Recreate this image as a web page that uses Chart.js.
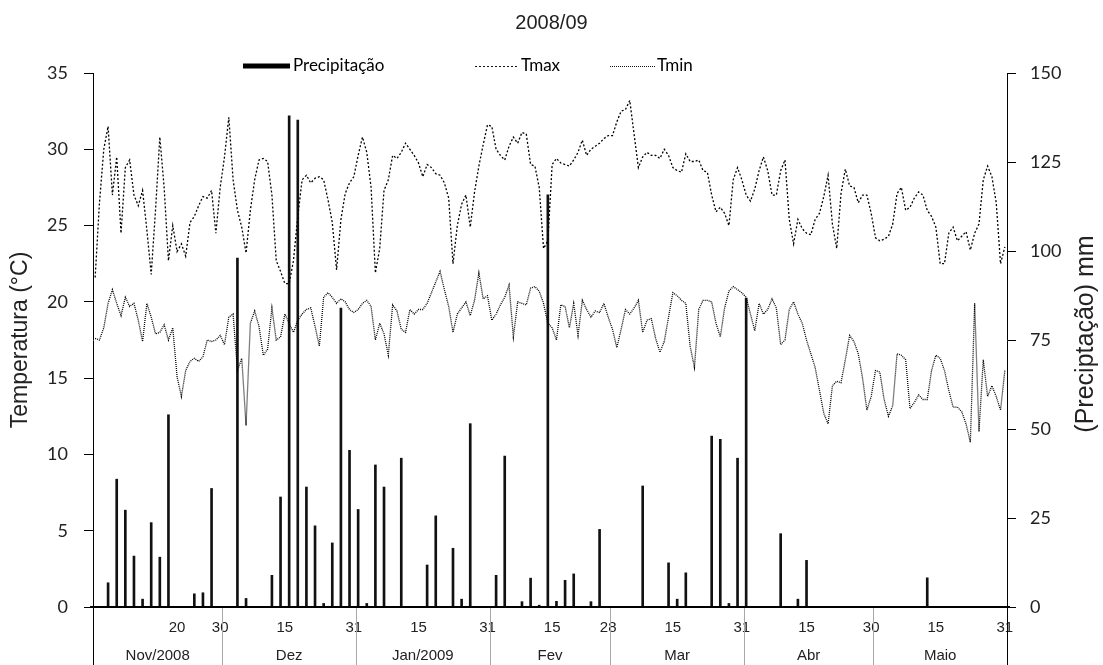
<!DOCTYPE html>
<html>
<head>
<meta charset="utf-8">
<script src="https://cdn.jsdelivr.net/npm/chart.js@4.4.0/dist/chart.umd.min.js"></script>
<style>
  html, body { margin: 0; padding: 0; background: #fff; }
  #wrap { width: 1103px; height: 665px; }
</style>
</head>
<body>
<div id="wrap"><canvas id="c" width="1103" height="665"></canvas></div>
<script>
// daily series, 1 Nov 2008 .. 31 May 2009
const months = ['Nov/2008', 'Dez', 'Jan/2009', 'Fev', 'Mar', 'Abr', 'Maio'];
const monthLengths = [30, 31, 31, 28, 31, 30, 31];
const shownDays = ['20', '30', '15', '31', '15', '31', '15', '28', '15', '31', '15', '30', '15', '31'];
const shownIdx = [19, 29, 44, 60, 75, 91, 106, 119, 134, 150, 165, 180, 195, 211];

const days = [];
monthLengths.forEach(n => { for (let d = 1; d <= n; d++) days.push(String(d)); });

const precip = [
  0,0,0,6.8,0,35.9,0,27.2,0,14.3,
  0,2.2,0,23.7,0,14,0,54,0,0,
  0,0,0,3.7,0,4,0,33.3,0,0,
  0,0,0,98,0,2.4,0,0,0,0,
  0,8.9,0,30.9,0,138,0,136.8,0,33.7,
  0,22.8,0,1,0,18,0,84,0,44,
  0,27.4,0,1,0,39.9,0,33.7,0,0,
  0,41.8,0,0,0,0,0,11.8,0,25.6,
  0,0,0,16.5,0,2.2,0,51.5,0,0,
  0,0,0,8.9,0,42.4,0,0,0,1.5,
  0,8.1,0,0.5,0,115.8,0,1.6,0,7.5,
  0,9.3,0,0,0,1.5,0,21.8,0,0,
  0,0,0,0,0,0,0,34,0,0,
  0,0,0,12.4,0,2.2,0,9.6,0,0,
  0,0,0,48,0,47.1,0,1,0,41.8,
  0,86.8,0,0,0,0,0,0,0,20.6,
  0,0,0,2.2,0,13.1,0,0,0,0,
  0,0,0,0,0,0,0,0,0,0,
  0,0,0,0,0,0,0,0,0,0,
  0,0,0,8.2,0,0,0,0,0,0,
  0,0,0,0,0,0,0,0,0,0,
  0,0
];

const tmax = [
  21.6,26.5,30.0,31.5,27.0,29.5,24.5,28.8,29.3,27.0,
  26.3,27.3,24.7,21.8,26.0,30.8,27.5,22.7,25.0,23.3,
  23.8,23.0,25.2,25.6,26.3,26.9,26.8,27.3,24.5,27.5,
  29.5,32.1,28.0,26.0,24.9,23.2,26.0,28.0,29.3,29.4,
  29.2,27.0,22.7,22.0,21.2,21.2,22.7,25.6,28.0,28.3,
  27.8,28.1,28.2,28.0,26.7,25.2,22.1,25.4,27.1,27.8,
  28.2,29.6,30.8,29.8,27.5,21.9,23.5,27.3,28.0,29.6,
  29.4,29.8,30.4,30.0,29.6,29.1,28.2,29.0,28.8,28.4,
  28.3,27.8,26.8,22.5,25.0,26.4,27.0,24.9,27.2,28.9,
  30.3,31.6,31.5,30.0,29.6,29.3,30.2,30.8,30.4,31.1,
  31.0,29.0,28.9,27.5,23.5,24.0,29.0,29.4,29.1,29.0,
  28.9,29.3,29.8,30.6,29.6,30.0,30.2,30.4,30.7,30.9,
  30.9,31.8,32.5,32.6,33.2,31.0,28.8,29.5,29.8,29.6,
  29.6,29.4,30.0,29.6,28.8,28.6,28.5,29.7,29.2,29.2,
  29.3,28.6,28.5,27.0,25.9,26.2,25.8,25.0,28.0,28.8,
  28.0,27.0,26.6,27.4,28.6,29.5,28.6,27.0,27.0,28.6,
  29.3,25.4,23.8,25.4,24.8,24.5,24.4,25.4,25.8,26.9,
  28.3,25.1,23.5,27.1,28.7,27.6,27.5,26.5,27.0,27.0,
  25.8,24.2,24.0,24.1,24.3,25.1,27.1,27.5,26.0,26.2,
  26.8,27.2,27.0,26.0,25.6,24.9,22.5,22.5,24.5,24.9,
  24.0,24.3,24.6,23.4,24.5,25.1,28.0,28.9,28.2,26.5,
  22.5,23.6
];

const tmin = [
  17.6,17.5,18.3,19.9,20.8,19.9,19.1,20.3,19.7,19.9,
  18.8,17.4,19.9,19.0,17.9,18.0,18.5,17.5,18.3,15.1,
  13.8,15.5,16.1,16.3,16.1,16.4,17.5,17.4,17.5,17.8,
  17.2,19.0,19.2,15.5,16.3,11.9,18.6,19.4,18.4,16.5,
  16.9,19.6,17.5,17.7,19.2,18.6,18.0,18.8,19.2,19.5,
  19.6,18.4,17.1,20.3,20.6,20.3,19.9,20.2,20.0,19.5,
  19.3,19.5,19.9,20.1,19.7,17.5,18.6,17.9,16.5,19.8,
  19.4,18.2,18.0,19.5,19.2,19.5,19.5,19.9,20.6,21.3,
  22.0,20.8,19.7,18.0,19.2,19.6,20.0,19.1,20.1,21.9,
  20.2,20.4,18.8,19.2,19.8,20.3,21.1,17.7,20.0,19.9,
  19.8,20.9,21.0,20.7,19.9,18.6,18.3,17.5,19.8,19.7,
  18.3,19.9,17.8,20.1,19.5,19.0,19.4,19.3,19.9,19.0,
  18.2,17.0,18.2,19.5,19.2,19.6,20.1,18.0,18.8,18.9,
  17.6,16.7,17.4,19.0,20.6,20.4,20.1,19.9,17.1,15.7,
  19.5,20.1,20.1,20.0,18.6,17.7,19.6,20.7,21.0,20.8,
  20.6,20.3,19.2,18.1,19.9,19.2,19.5,20.2,19.6,17.2,
  17.5,19.5,20.0,19.2,18.6,17.5,16.6,15.7,14.2,12.7,
  12.0,14.5,14.8,14.7,16.2,17.8,17.4,16.6,15.0,12.9,
  13.8,15.5,15.4,13.6,12.5,13.2,16.6,16.5,16.2,13.0,
  13.4,13.9,13.6,13.6,15.5,16.5,16.3,15.5,14.2,13.1,
  13.1,12.8,12.0,10.8,19.9,11.5,16.2,13.8,14.5,13.8,
  12.9,15.5
];

const AXIS_FONT = 'Lato, "Open Sans", sans-serif';
const ARIAL = '"Liberation Sans", Arial, sans-serif';

// baseline, month labels, separators, legend, axis titles
const extras = {
  id: 'extras',
  afterDraw(chart) {
    const { ctx, chartArea: a, scales: { x } } = chart;
    const H = chart.height;
    ctx.save();
    ctx.setLineDash([]);

    // solid category axis line
    ctx.fillStyle = '#000';
    ctx.fillRect(a.left - 3, Math.round(a.bottom) - 1, a.right - a.left + 6, 2);

    // month groups under the axis
    let start = 0;
    const edges = [a.left];
    monthLengths.forEach(n => {
      const end = start + n;
      const right = end >= days.length ? a.right
        : (x.getPixelForValue(end - 1) + x.getPixelForValue(end)) / 2;
      edges.push(right);
      start = end;
    });
    ctx.lineWidth = 1;
    ctx.strokeStyle = '#a8a8a8';
    edges.slice(1, -1).forEach(px => {
      ctx.beginPath(); ctx.moveTo(Math.round(px) + 0.5, a.bottom + 1); ctx.lineTo(Math.round(px) + 0.5, H); ctx.stroke();
    });
    ctx.strokeStyle = '#000';
    [a.left, a.right].forEach(px => {
      ctx.beginPath(); ctx.moveTo(Math.round(px) + 0.5, a.bottom); ctx.lineTo(Math.round(px) + 0.5, H); ctx.stroke();
    });
    ctx.fillStyle = '#222';
    ctx.font = '15px ' + ARIAL;
    ctx.textAlign = 'center';
    ctx.textBaseline = 'middle';
    months.forEach((name, m) => ctx.fillText(name, (edges[m] + edges[m + 1]) / 2, 656));

    // legend
    const ly = 66;
    ctx.font = '17px ' + AXIS_FONT;
    ctx.textAlign = 'left';
    ctx.fillStyle = '#000';
    ctx.fillRect(243, ly - 2.5, 47, 5);
    ctx.fillText('Precipitação', 293, ly);
    ctx.lineWidth = 1;
    ctx.strokeStyle = '#111';
    ctx.setLineDash([2, 2]);
    ctx.beginPath(); ctx.moveTo(475, ly + 0.5); ctx.lineTo(518, ly + 0.5); ctx.stroke();
    ctx.setLineDash([1, 1]);
    ctx.beginPath(); ctx.moveTo(610, ly + 0.5); ctx.lineTo(655, ly + 0.5); ctx.stroke();
    ctx.setLineDash([]);
    ctx.fillText('Tmax', 521, ly);
    ctx.fillText('Tmin', 657, ly);

    // axis titles, both reading bottom to top
    ctx.fillStyle = '#222';
    ctx.textAlign = 'center';
    [[21, 340, 23, 'Temperatura (°C)'], [1086, 334, 25, '(Preciptação) mm']].forEach(([tx, ty, fs, txt]) => {
      ctx.save();
      ctx.font = fs + 'px ' + ARIAL;
      ctx.translate(tx, ty);
      ctx.rotate(-Math.PI / 2);
      ctx.fillText(txt, 0, 0);
      ctx.restore();
    });
    ctx.restore();
  }
};

new Chart(document.getElementById('c'), {
  data: {
    labels: days,
    datasets: [
      { type: 'line', label: 'Tmax', data: tmax, yAxisID: 'y', order: 0,
        borderColor: '#000', borderWidth: 1.3, borderDash: [2, 2], pointRadius: 0, tension: 0, fill: false },
      { type: 'line', label: 'Tmin', data: tmin, yAxisID: 'y', order: 0,
        borderColor: '#000', borderWidth: 1.3, borderDash: [1, 1], pointRadius: 0, tension: 0, fill: false },
      { type: 'bar', label: 'Precipitação', data: precip, yAxisID: 'y1', order: 1,
        backgroundColor: '#111', barThickness: 2 }
    ]
  },
  options: {
    responsive: false,
    animation: false,
    layout: { padding: 0 },
    plugins: {
      legend: { display: false },
      tooltip: { enabled: false },
      title: {
        display: true, text: '2008/09', color: '#222',
        font: { family: ARIAL, size: 20, weight: 'normal' },
        padding: { top: 11, bottom: 38 }
      }
    },
    scales: {
      x: {
        type: 'category',
        offset: true,
        grid: { display: false, drawTicks: false },
        border: { display: false },
        ticks: {
          autoSkip: false, maxRotation: 0, padding: 12, color: '#222',
          font: { family: ARIAL, size: 15 },
          callback: (v, i) => { const k = shownIdx.indexOf(i); return k < 0 ? '' : shownDays[k]; }
        },
        afterFit: s => { s.height = 58; }
      },
      y: {
        position: 'left', min: 0, max: 35,
        grid: { drawOnChartArea: false, drawTicks: true, tickLength: 9, color: '#000' },
        border: { display: true, color: '#000', width: 1 },
        ticks: { stepSize: 5, padding: 16, color: '#222', font: { family: AXIS_FONT, size: 18 } },
        afterFit: s => { s.width = 93; }
      },
      y1: {
        position: 'right', min: 0, max: 150,
        grid: { drawOnChartArea: false, drawTicks: true, tickLength: 9, color: '#000' },
        border: { display: true, color: '#000', width: 1 },
        ticks: { stepSize: 25, padding: 14, color: '#222', font: { family: AXIS_FONT, size: 18 } },
        afterFit: s => { s.width = 96; }
      }
    }
  },
  plugins: [extras]
});
</script>
</body>
</html>
